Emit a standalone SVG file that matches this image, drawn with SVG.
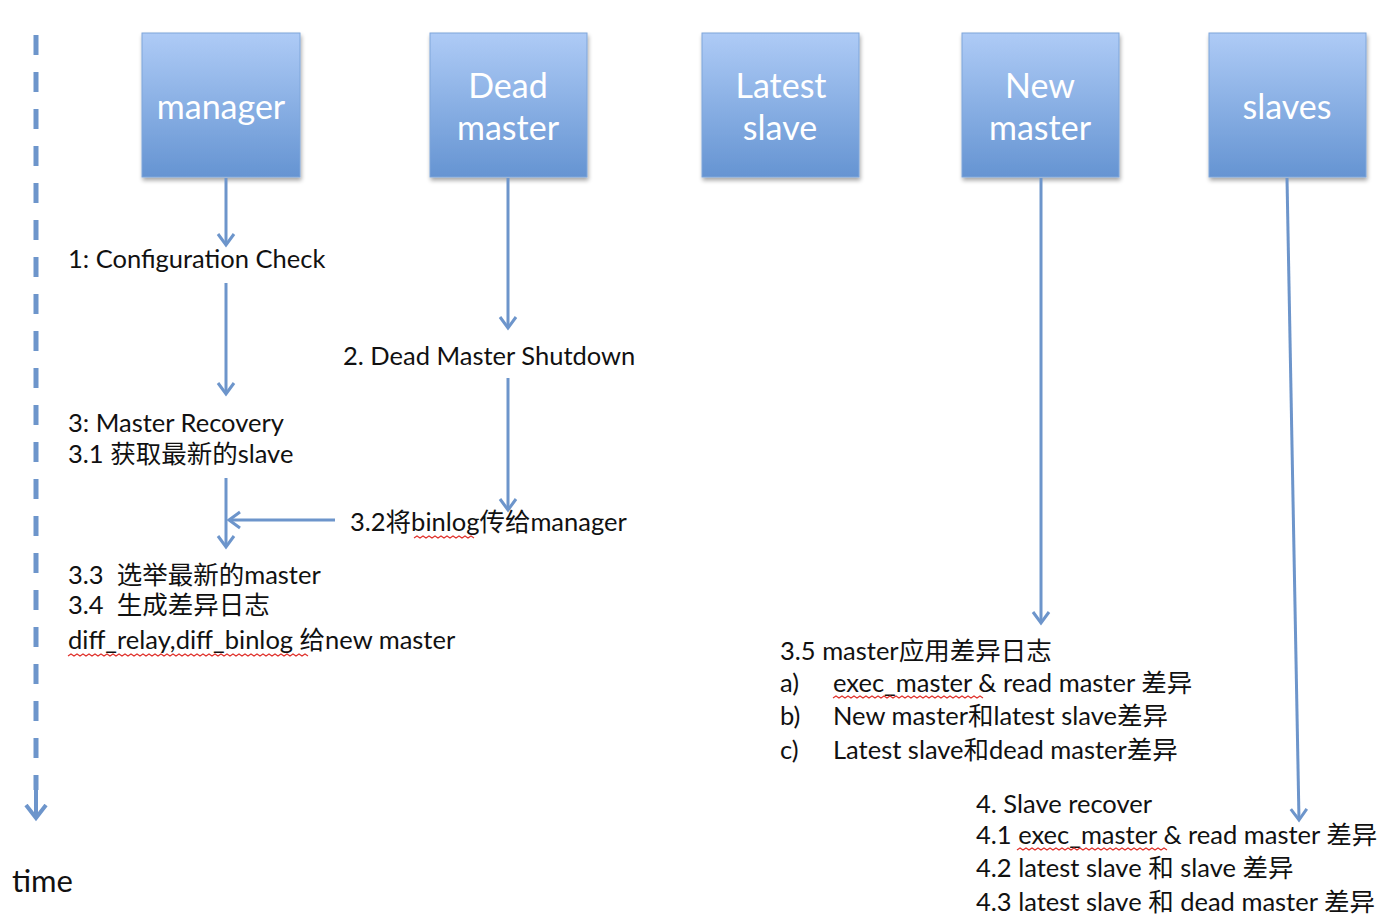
<svg xmlns="http://www.w3.org/2000/svg" width="1400" height="920" viewBox="0 0 1400 920">
<style>
.t{font-family:Lato,"Noto Sans CJK SC",sans-serif;font-size:25.5px;fill:#111}
.lbl{font-family:Lato,"Noto Sans CJK SC",sans-serif;font-size:34px;fill:#fff;text-anchor:middle}
.box{fill:url(#g);stroke:#7fa6da;stroke-width:1;filter:url(#sh)}
.c{stroke:#6d95cb;stroke-width:3;fill:none;marker-end:url(#ah)}
.sq{stroke:#e0302a;stroke-width:1.2;fill:none}
</style>
<defs>
<linearGradient id="g" x1="0" y1="0" x2="0" y2="1">
<stop offset="0" stop-color="#aecbf6"/>
<stop offset="1" stop-color="#6594d2"/>
</linearGradient>
<filter id="sh" x="-10%" y="-10%" width="130%" height="130%">
<feGaussianBlur in="SourceAlpha" stdDeviation="2"/>
<feOffset dx="1" dy="3" result="o"/>
<feComponentTransfer><feFuncA type="linear" slope="0.35"/></feComponentTransfer>
<feMerge><feMergeNode/><feMergeNode in="SourceGraphic"/></feMerge>
</filter>
<marker id="ah" markerUnits="userSpaceOnUse" markerWidth="22" markerHeight="22" refX="12" refY="9" orient="auto" viewBox="0 0 22 18">
<path d="M1,1 L12,9 L1,17" stroke="#6d95cb" stroke-width="3" fill="none"/>
</marker>
<marker id="ah2" markerUnits="userSpaceOnUse" markerWidth="26" markerHeight="26" refX="14" refY="11" orient="auto" viewBox="0 0 26 22">
<path d="M1,1 L14,11 L1,21" stroke="#6d95cb" stroke-width="4" fill="none"/>
</marker>
</defs>
<rect width="1400" height="920" fill="#fff"/>

<g id="node-manager"><rect class="box" x="142" y="33" width="158" height="144"/><text class="lbl" x="221" y="119">manager</text></g>
<g id="node-dead-master"><rect class="box" x="430" y="33" width="157" height="144"/><text class="lbl" x="508" y="98">Dead</text><text class="lbl" x="508" y="140">master</text></g>
<g id="node-latest-slave"><rect class="box" x="702" y="33" width="157" height="144"/><text class="lbl" x="781" y="98">Latest</text><text class="lbl" x="780" y="140">slave</text></g>
<g id="node-new-master"><rect class="box" x="962" y="33" width="157" height="144"/><text class="lbl" x="1040" y="98">New</text><text class="lbl" x="1040" y="140">master</text></g>
<g id="node-slaves"><rect class="box" x="1209" y="33" width="157" height="144"/><text class="lbl" x="1287" y="119">slaves</text></g>

<g id="connectors">
<line x1="36" y1="35" x2="36" y2="790" stroke="#6d95cb" stroke-width="5" stroke-dasharray="20 17"/>
<line class="c" x1="36" y1="790" x2="36" y2="818" style="marker-end:url(#ah2);stroke-width:4"/>
<line class="c" x1="226" y1="178" x2="226" y2="245"/>
<line class="c" x1="226" y1="283" x2="226" y2="394"/>
<line class="c" x1="508" y1="178" x2="508" y2="328"/>
<line class="c" x1="508" y1="378" x2="508" y2="510"/>
<line class="c" x1="226" y1="478" x2="226" y2="547"/>
<line class="c" x1="335" y1="520" x2="229" y2="520"/>
<line class="c" x1="1041" y1="178" x2="1041" y2="623"/>
<line class="c" x1="1287" y1="178" x2="1299" y2="820"/>
</g>

<g id="texts">
<text class="t" x="68" y="268">1: Configuration Check</text>
<text class="t" x="343" y="365">2. Dead Master Shutdown</text>
<text class="t" x="68" y="432">3: Master Recovery</text>
<text class="t" x="68" y="463">3.1 获取最新的slave</text>
<text class="t" x="350" y="531">3.2将binlog传给manager</text>
<text class="t" x="68" y="584" xml:space="preserve">3.3  选举最新的master</text>
<text class="t" x="68" y="614" xml:space="preserve">3.4  生成差异日志</text>
<text class="t" x="68" y="649">diff_relay,diff_binlog 给new master</text>
<text class="t" x="780" y="660">3.5 master应用差异日志</text>
<text class="t" x="780" y="692">a)</text><text class="t" x="833" y="692">exec_master &amp; read master 差异</text>
<text class="t" x="780" y="725">b)</text><text class="t" x="833" y="725">New master和latest slave差异</text>
<text class="t" x="780" y="759">c)</text><text class="t" x="833" y="759">Latest slave和dead master差异</text>
<text class="t" x="976" y="813">4. Slave recover</text>
<text class="t" x="976" y="844">4.1 exec_master &amp; read master 差异</text>
<text class="t" x="976" y="877">4.2 latest slave 和 slave 差异</text>
<text class="t" x="976" y="911">4.3 latest slave 和 dead master 差异</text>
<text class="t" x="12" y="892" style="font-size:31px">time</text>
</g>

<g id="squiggles">
<path class="sq" d="M414,538 l3,-2 l3,2 l3,-2 l3,2 l3,-2 l3,2 l3,-2 l3,2 l3,-2 l3,2 l3,-2 l3,2 l3,-2 l3,2 l3,-2 l3,2 l3,-2 l3,2 l3,-2 l3,2"/>
<path class="sq" d="M68,656 l3,-2 l3,2 l3,-2 l3,2 l3,-2 l3,2 l3,-2 l3,2 l3,-2 l3,2 l3,-2 l3,2 l3,-2 l3,2 l3,-2 l3,2 l3,-2 l3,2 l3,-2 l3,2 l3,-2 l3,2 l3,-2 l3,2 l3,-2 l3,2 l3,-2 l3,2 l3,-2 l3,2 l3,-2 l3,2 l3,-2 l3,2 l3,-2 l3,2 l3,-2 l3,2 l3,-2 l3,2 l3,-2 l3,2 l3,-2 l3,2 l3,-2 l3,2 l3,-2 l3,2 l3,-2 l3,2 l3,-2 l3,2 l3,-2 l3,2 l3,-2 l3,2 l3,-2 l3,2 l3,-2 l3,2 l3,-2 l3,2 l3,-2 l3,2 l3,-2 l3,2 l3,-2 l3,2 l3,-2 l3,2 l3,-2 l3,2 l3,-2 l3,2 l3,-2 l3,2 l3,-2 l3,2 l3,-2 l3,2"/>
<path class="sq" d="M833,698 l3,-2 l3,2 l3,-2 l3,2 l3,-2 l3,2 l3,-2 l3,2 l3,-2 l3,2 l3,-2 l3,2 l3,-2 l3,2 l3,-2 l3,2 l3,-2 l3,2 l3,-2 l3,2 l3,-2 l3,2 l3,-2 l3,2 l3,-2 l3,2 l3,-2 l3,2 l3,-2 l3,2 l3,-2 l3,2 l3,-2 l3,2 l3,-2 l3,2 l3,-2 l3,2 l3,-2 l3,2 l3,-2 l3,2 l3,-2 l3,2 l3,-2 l3,2 l3,-2 l3,2 l3,-2 l3,2"/>
<path class="sq" d="M1017,850 l3,-2 l3,2 l3,-2 l3,2 l3,-2 l3,2 l3,-2 l3,2 l3,-2 l3,2 l3,-2 l3,2 l3,-2 l3,2 l3,-2 l3,2 l3,-2 l3,2 l3,-2 l3,2 l3,-2 l3,2 l3,-2 l3,2 l3,-2 l3,2 l3,-2 l3,2 l3,-2 l3,2 l3,-2 l3,2 l3,-2 l3,2 l3,-2 l3,2 l3,-2 l3,2 l3,-2 l3,2 l3,-2 l3,2 l3,-2 l3,2 l3,-2 l3,2 l3,-2 l3,2 l3,-2 l3,2"/>
</g>
</svg>
